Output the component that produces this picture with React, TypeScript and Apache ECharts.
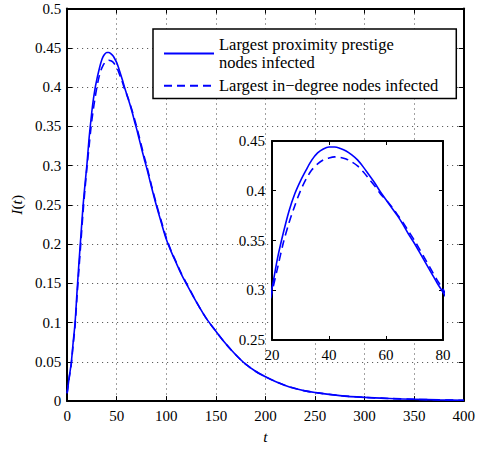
import React, { useEffect, useRef } from "react";
import * as echarts from "echarts";

const TIME = [0, 2, 4, 6, 8, 10, 12, 14, 16, 18, 20, 22, 24, 26, 28, 30, 32, 34, 36, 38, 40, 42, 44, 46, 48, 50, 52, 54, 56, 58, 60, 62, 64, 66, 68, 70, 72, 74, 76, 78, 80, 85, 90, 95, 100, 105, 110, 115, 120, 130, 140, 150, 160, 170, 180, 190, 200, 210, 220, 230, 240, 250, 275, 300, 325, 350, 375, 400];
const PROXIMITY = [0.010, 0.030, 0.047, 0.074, 0.100, 0.140, 0.178, 0.213, 0.248, 0.276, 0.302, 0.333, 0.358, 0.380, 0.397, 0.410, 0.421, 0.431, 0.438, 0.442, 0.4440, 0.4440, 0.4425, 0.440, 0.436, 0.431, 0.424, 0.416, 0.408, 0.399, 0.391, 0.383, 0.375, 0.366, 0.356, 0.347, 0.337, 0.327, 0.317, 0.307, 0.298, 0.273, 0.249, 0.227, 0.206, 0.190, 0.176, 0.162, 0.150, 0.127, 0.106, 0.089, 0.073, 0.059, 0.047, 0.038, 0.031, 0.025, 0.020, 0.016, 0.013, 0.011, 0.007, 0.0047, 0.0033, 0.0023, 0.0015, 0.001];
const INDEGREE = [0.010, 0.029, 0.045, 0.071, 0.096, 0.134, 0.170, 0.205, 0.240, 0.270, 0.298, 0.323, 0.348, 0.368, 0.385, 0.400, 0.412, 0.421, 0.427, 0.431, 0.433, 0.434, 0.4335, 0.432, 0.429, 0.425, 0.419, 0.412, 0.405, 0.397, 0.391, 0.384, 0.376, 0.368, 0.359, 0.350, 0.340, 0.330, 0.320, 0.310, 0.301, 0.275, 0.251, 0.229, 0.208, 0.191, 0.177, 0.163, 0.151, 0.127, 0.106, 0.089, 0.073, 0.059, 0.047, 0.038, 0.031, 0.025, 0.020, 0.016, 0.013, 0.011, 0.007, 0.0047, 0.0033, 0.0023, 0.0015, 0.001];

const NAME_A = "Largest proximity prestige\nnodes infected";
const NAME_B = "Largest in\u2212degree nodes infected";

const FONT = "'Liberation Serif', 'Times New Roman', serif";

export default function App() {
  const ref = useRef<HTMLDivElement>(null);
  useEffect(() => {
    const chart = echarts.init(ref.current!, undefined, { renderer: "svg" });
    const dataA = TIME.map((t, i) => [t, PROXIMITY[i]]);
    const dataB = TIME.map((t, i) => [t, INDEGREE[i]]);
    const axisLine = { show: true, onZero: false, lineStyle: { color: "#000", width: 2 } };
    const richLabel = {
      fontFamily: FONT, fontSize: 15, color: "#000",
      formatter: (v: number) => `{s|${Math.round(v * 1000) / 1000}}`,
      rich: { s: { fontFamily: FONT, fontSize: 15, color: "#000" } },
    };
    const dotted = { show: true, lineStyle: { color: "#444", width: 1, type: [1, 4] as any } };
    const mainX = { min: 0, max: 400, interval: 50 };
    const mainY = { min: 0, max: 0.5, interval: 0.05 };
    const insX = { min: 20, max: 80, interval: 20 };
    const insY = { min: 0.25, max: 0.45, interval: 0.05 };
    const tick = (len: number) => ({ show: true, inside: true, length: len, lineStyle: { color: "#000", width: 1 } });
    const option: any = {
      animation: false,
      backgroundColor: "#fff",
      textStyle: { fontFamily: FONT },
      grid: [
        { left: 63, right: 12, top: 8.5, bottom: 39, containLabel: false },
        { left: 272, top: 141, width: 171, height: 199, show: true, backgroundColor: "#fff", borderWidth: 0, z: 3 },
      ],
      xAxis: [
        {
          type: "value", gridIndex: 0, ...mainX, position: "bottom",
          axisLine, axisTick: tick(5),
          axisLabel: { ...richLabel, margin: 7, showMinLabel: true, showMaxLabel: true },
          splitLine: dotted,
          name: "{i|t}", nameLocation: "middle", nameGap: 26,
          nameTextStyle: {
            fontFamily: FONT, fontSize: 15, color: "#000",
            rich: { i: { fontFamily: FONT, fontSize: 15.5, fontStyle: "italic", color: "#000" } },
          },
        },
        {
          type: "value", gridIndex: 0, ...mainX, position: "top",
          axisLine, axisTick: tick(5),
          axisLabel: { show: false }, splitLine: { show: false },
        },
        {
          type: "value", gridIndex: 1, ...insX, position: "bottom", z: 3,
          axisLine, axisTick: tick(4),
          axisLabel: { ...richLabel, margin: 7, showMinLabel: true, showMaxLabel: true },
          splitLine: { show: false },
        },
        {
          type: "value", gridIndex: 1, ...insX, position: "top", z: 3,
          axisLine, axisTick: tick(4),
          axisLabel: { show: false }, splitLine: { show: false },
        },
      ],
      yAxis: [
        {
          type: "value", gridIndex: 0, ...mainY, position: "left",
          axisLine, axisTick: tick(5),
          axisLabel: { ...richLabel, margin: 6, showMinLabel: true, showMaxLabel: true },
          splitLine: dotted,
          name: "{i|I}{n|(}{i|t}{n|)}", nameLocation: "middle", nameGap: 30, nameRotate: 90,
          nameTextStyle: {
            fontFamily: FONT, fontSize: 15, color: "#000",
            rich: {
              i: { fontFamily: FONT, fontSize: 15.5, fontStyle: "italic", color: "#000" },
              n: { fontFamily: FONT, fontSize: 15.5, color: "#000" },
            },
          },
        },
        {
          type: "value", gridIndex: 0, ...mainY, position: "right",
          axisLine, axisTick: tick(5),
          axisLabel: { show: false }, splitLine: { show: false },
        },
        {
          type: "value", gridIndex: 1, ...insY, position: "left", z: 3,
          axisLine, axisTick: tick(4),
          axisLabel: { ...richLabel, margin: 7, showMinLabel: true, showMaxLabel: true },
          splitLine: { show: false },
        },
        {
          type: "value", gridIndex: 1, ...insY, position: "right", z: 3,
          axisLine, axisTick: tick(4),
          axisLabel: { show: false }, splitLine: { show: false },
        },
      ],
      legend: {
        orient: "vertical",
        left: 153,
        top: 29,
        padding: [7, 18, 4, 10],
        itemGap: 6,
        itemWidth: 50,
        itemHeight: 10,
        backgroundColor: "#fff",
        borderColor: "#000",
        borderWidth: 1.5,
        borderRadius: 0,
        data: [NAME_A, NAME_B],
        itemStyle: { color: "rgba(0,0,0,0)", borderWidth: 0, opacity: 0 },
        textStyle: { fontFamily: FONT, fontSize: 16.5, color: "#000", lineHeight: 17.5 },
        z: 10,
      },
      series: [
        {
          name: NAME_A, type: "line", xAxisIndex: 0, yAxisIndex: 0, data: dataA,
          symbol: "none", smooth: 0.3, lineStyle: { color: "#0000ff", width: 1.6, type: "solid" },
          itemStyle: { color: "#0000ff" }, z: 2,
        },
        {
          name: NAME_B, type: "line", xAxisIndex: 0, yAxisIndex: 0, data: dataB,
          symbol: "none", smooth: 0.3, lineStyle: { color: "#0000ff", width: 1.6, type: [8, 5] },
          itemStyle: { color: "#0000ff" }, z: 2,
        },
        {
          name: NAME_A, type: "line", xAxisIndex: 2, yAxisIndex: 2, data: dataA,
          symbol: "none", smooth: 0.3, clip: true, lineStyle: { color: "#0000ff", width: 1.6, type: "solid" },
          itemStyle: { color: "#0000ff" }, z: 5,
        },
        {
          name: NAME_B, type: "line", xAxisIndex: 2, yAxisIndex: 2, data: dataB,
          symbol: "none", smooth: 0.3, clip: true, lineStyle: { color: "#0000ff", width: 1.6, type: [8, 5] },
          itemStyle: { color: "#0000ff" }, z: 5,
        },
      ],
    };
    chart.setOption(option);
    return () => chart.dispose();
  }, []);
  return <div ref={ref} style={{ width: 478, height: 449, position: "absolute", left: 0, top: 0 }} />;
}
